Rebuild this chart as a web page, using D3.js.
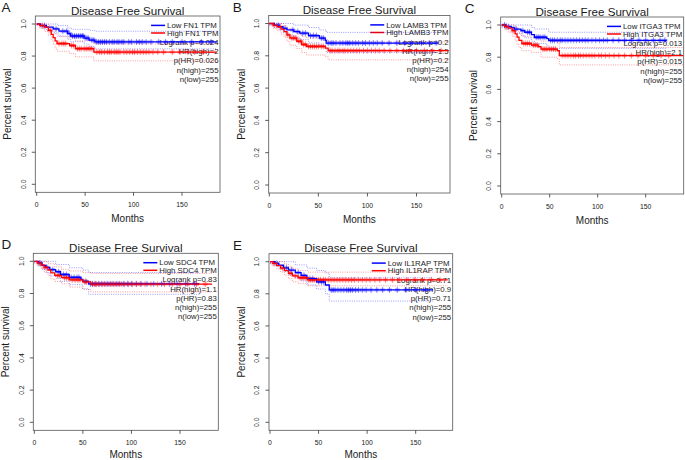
<!DOCTYPE html>
<html><head><meta charset="utf-8">
<script src="https://cdn.jsdelivr.net/npm/d3@7"></script>
<style>
body{margin:0;background:#fff}
svg{display:block}
text{font-family:"Liberation Sans",Arial,Helvetica,sans-serif;fill:#1a1a1a}
</style>
</head><body>
<svg id="chart" width="685" height="460"></svg>
<script>
// ---------- shared axis / text data ----------
const xTicks = [0, 50, 100, 150];
const yTicks = [0, 0.2, 0.4, 0.6, 0.8, 1.0];
const yTickLabels = ["0.0", "0.2", "0.4", "0.6", "0.8", "1.0"];
const titleText = "Disease Free Survival";
const xLabel = "Months";
const yLabel = "Percent survival";
const panelLetters = ["A", "B", "C", "D", "E"];
const genes = ["FN1", "LAMB3", "ITGA3", "SDC4", "IL1RAP"];

// ---------- Panel A: FN1 ----------
const aStats = ["Logrank p=0.024", "HR(high)=2", "p(HR)=0.026", "n(high)=255", "n(low)=255"];
const aLow = [[0,1],[4,0.99],[10,0.98],[17,0.97],[23,0.955],[32,0.94],[35,0.925],[49,0.912],[54,0.9],[60,0.888],[186,0.888]];
const aHigh = [[0,1],[3,0.99],[8,0.98],[12,0.96],[15,0.935],[17,0.915],[19,0.895],[21,0.878],[34,0.866],[40,0.846],[59,0.825],[186,0.825]];
const aLowUp = [[0,1],[15,1],[22,0.99],[32,0.975],[36,0.967],[54,0.96],[60,0.955],[186,0.955]];
const aLowLo = [[0,0.995],[4,0.975],[10,0.96],[17,0.945],[23,0.925],[32,0.905],[35,0.89],[49,0.875],[54,0.86],[60,0.845],[186,0.845]];
const aHighUp = [[0,1],[8,1],[12,0.99],[15,0.97],[19,0.94],[21,0.922],[34,0.915],[40,0.895],[59,0.876],[186,0.876]];
const aHighLo = [[0,0.99],[3,0.975],[8,0.955],[12,0.93],[15,0.9],[17,0.875],[19,0.85],[21,0.83],[34,0.815],[40,0.795],[59,0.77],[186,0.77]];
const aLowCens = [8,20,27,31,34,37,39,41,43,45,47,48,51,53,57,59,62,64,66,68,70,72,75,78,80,83,85,88,90,95,98,103,106,109,113,118,126,133,140,150,160,170,180];
const aHighCens = [6,14,23,26,28,30,36,38,42,44,46,49,51,53,55,57,62,65,67,70,73,75,77,80,82,84,86,90,93,96,99,101,104,107,110,113,116,120,125,131,140,148,156,163,172];

// ---------- Panel B: LAMB3 ----------
const bStats = ["Logrank p=0.2", "HR(high)=1.5", "p(HR)=0.2", "n(high)=254", "n(low)=255"];
const bLow = [[0,1],[5,0.99],[10,0.98],[14,0.97],[18,0.96],[25,0.95],[31,0.94],[40,0.925],[51,0.91],[57,0.895],[58,0.879],[172,0.879]];
const bHigh = [[0,1],[4,0.99],[8,0.98],[12,0.965],[15,0.95],[18,0.93],[21,0.91],[28,0.89],[33,0.87],[38,0.858],[57,0.848],[60,0.832],[183,0.832]];
const bLowUp = [[0,1],[18,1],[25,0.99],[40,0.975],[51,0.96],[58,0.945],[172,0.945]];
const bLowLo = [[0,0.99],[5,0.975],[10,0.96],[14,0.945],[18,0.93],[25,0.915],[31,0.9],[40,0.88],[51,0.865],[58,0.82],[172,0.82]];
const bHighUp = [[0,1],[10,1],[15,0.985],[18,0.97],[21,0.955],[28,0.935],[33,0.92],[38,0.91],[57,0.9],[60,0.885],[183,0.885]];
const bHighLo = [[0,0.99],[4,0.97],[8,0.955],[12,0.935],[15,0.915],[18,0.89],[21,0.865],[28,0.845],[33,0.82],[38,0.805],[57,0.795],[60,0.775],[183,0.775]];
const bLowCens = [9,16,24,29,34,37,42,45,48,53,55,60,63,65,68,72,75,78,80,82,85,88,91,95,98,102,106,110,115,122,130,138,145,155,163,170];
const bHighCens = [5,11,19,23,25,27,30,32,35,37,40,42,44,46,48,50,53,55,62,64,67,70,72,75,77,80,83,86,89,92,96,100,104,108,112,117,123,130,137,143,150,158,166,175];

// ---------- Panel C: ITGA3 ----------
const cStats = ["Logrank p=0.013", "HR(high)=2.1", "p(HR)=0.015", "n(high)=255", "n(low)=255"];
const cLow = [[0,1],[4,0.99],[10,0.985],[13,0.975],[20,0.965],[24,0.955],[31,0.94],[34,0.924],[47,0.915],[49,0.905],[172,0.905]];
const cHigh = [[0,1],[3,0.99],[7,0.98],[11,0.965],[14,0.945],[16,0.925],[18,0.905],[21,0.885],[31,0.875],[38,0.865],[41,0.85],[58,0.84],[60,0.81],[189,0.81]];
const cLowUp = [[0,1],[20,1],[31,0.985],[34,0.975],[49,0.955],[172,0.955]];
const cLowLo = [[0,0.985],[4,0.975],[10,0.965],[13,0.95],[20,0.935],[24,0.92],[31,0.9],[34,0.885],[47,0.87],[49,0.855],[172,0.855]];
const cHighUp = [[0,1],[11,1],[14,0.985],[16,0.965],[18,0.95],[21,0.93],[31,0.92],[41,0.9],[58,0.89],[60,0.86],[189,0.86]];
const cHighLo = [[0,0.99],[3,0.97],[7,0.955],[11,0.93],[14,0.905],[16,0.88],[18,0.86],[21,0.84],[31,0.83],[41,0.8],[58,0.79],[60,0.752],[189,0.752]];
const cLowCens = [3,7,15,22,27,29,36,38,40,43,45,51,53,55,58,61,63,66,69,72,75,78,81,84,87,90,94,98,102,106,110,116,122,128,135,143,150,158,165,170];
const cHighCens = [5,12,23,25,27,29,33,35,37,43,45,47,50,52,54,56,63,66,69,72,75,77,80,82,85,88,91,94,97,101,104,108,112,117,122,128,135,142,150,158,166,174];

// ---------- Panel D: SDC4 ----------
const dStats = ["Logrank p=0.83", "HR(high)=1.1", "p(HR)=0.83", "n(high)=255", "n(low)=255"];
const dLow = [[0,1],[4,0.99],[8,0.975],[12,0.962],[16,0.948],[22,0.935],[27,0.918],[36,0.9],[48,0.888],[50,0.875],[56,0.86],[170,0.86]];
const dHigh = [[0,1],[3,0.99],[7,0.977],[10,0.963],[14,0.946],[17,0.928],[21,0.912],[28,0.898],[36,0.885],[50,0.872],[58,0.858],[183,0.858]];
const dLowUp = [[0,1],[12,1],[22,0.98],[36,0.96],[50,0.945],[56,0.93],[170,0.93]];
const dLowLo = [[0,0.99],[4,0.97],[8,0.95],[12,0.93],[16,0.91],[22,0.895],[27,0.875],[36,0.855],[50,0.83],[56,0.795],[170,0.795]];
const dHighUp = [[0,1],[10,1],[14,0.985],[21,0.965],[28,0.95],[36,0.94],[50,0.93],[58,0.925],[183,0.925]];
const dHighLo = [[0,0.99],[3,0.975],[7,0.955],[10,0.935],[14,0.915],[17,0.89],[21,0.875],[28,0.86],[36,0.84],[50,0.825],[58,0.81],[183,0.81]];
const dLowCens = [6,13,19,25,30,33,38,41,44,46,53,58,60,63,66,69,72,75,78,81,85,88,92,96,100,105,110,116,123,131,139,147,156,165];
const dHighCens = [5,11,24,26,31,33,35,39,42,45,47,52,54,60,62,64,67,70,73,76,79,82,84,87,90,93,97,101,105,109,114,120,127,134,142,150,158,167,176];

// ---------- Panel E: IL1RAP ----------
const eStats = ["Logrank p=0.71", "HR(high)=0.9", "p(HR)=0.71", "n(high)=255", "n(low)=255"];
const eLow = [[0,1],[5,0.99],[9,0.978],[14,0.962],[19,0.948],[26,0.932],[32,0.915],[38,0.895],[48,0.875],[57,0.855],[61,0.824],[168,0.824]];
const eHigh = [[0,1],[3,0.99],[7,0.975],[11,0.96],[15,0.945],[19,0.928],[23,0.912],[29,0.9],[39,0.887],[183,0.887]];
const eLowUp = [[0,1],[14,1],[26,0.98],[38,0.96],[48,0.945],[57,0.93],[61,0.9],[168,0.9]];
const eLowLo = [[0,0.99],[5,0.975],[9,0.96],[14,0.94],[19,0.92],[26,0.9],[32,0.88],[38,0.855],[48,0.83],[57,0.8],[61,0.755],[168,0.755]];
const eHighUp = [[0,1],[11,1],[15,0.985],[19,0.97],[23,0.955],[29,0.945],[39,0.935],[183,0.935]];
const eHighLo = [[0,0.99],[3,0.975],[7,0.955],[11,0.935],[15,0.915],[19,0.895],[23,0.875],[29,0.865],[39,0.85],[183,0.85]];
const eLowCens = [7,17,22,29,35,41,44,50,53,55,63,65,67,70,73,76,79,81,83,85,88,91,95,99,104,110,116,123,131,140,150,160];
const eHighCens = [4,13,21,26,31,33,35,37,40,42,44,46,48,50,52,55,57,60,63,66,69,72,75,78,81,84,87,91,95,99,103,108,113,119,126,133,141,149,157,166,175];

// ---------- layout (pixel geometry per panel) ----------
const layout = [
  {boxL:35.3, boxR:220.0, y1:24.0,  y0:184.3, x0:36.7,  x150:182.0},
  {boxL:268.7,boxR:450.0, y1:23.5,  y0:185.0, x0:269.3, x150:416.5},
  {boxL:500.7,boxR:683.7, y1:25.0,  y0:186.0, x0:501.7, x150:645.7},
  {boxL:33.3, boxR:218.3, y1:261.3, y0:422.3, x0:34.3,  x150:180.0},
  {boxL:269.0,boxR:452.7, y1:261.7, y0:422.3, x0:270.0, x150:415.7}
];

const panelData = [
  {stats:aStats, low:aLow, high:aHigh, lowUp:aLowUp, lowLo:aLowLo, highUp:aHighUp, highLo:aHighLo, lowC:aLowCens, highC:aHighCens},
  {stats:bStats, low:bLow, high:bHigh, lowUp:bLowUp, lowLo:bLowLo, highUp:bHighUp, highLo:bHighLo, lowC:bLowCens, highC:bHighCens},
  {stats:cStats, low:cLow, high:cHigh, lowUp:cLowUp, lowLo:cLowLo, highUp:cHighUp, highLo:cHighLo, lowC:cLowCens, highC:cHighCens},
  {stats:dStats, low:dLow, high:dHigh, lowUp:dLowUp, lowLo:dLowLo, highUp:dHighUp, highLo:dHighLo, lowC:dLowCens, highC:dHighCens},
  {stats:eStats, low:eLow, high:eHigh, lowUp:eLowUp, lowLo:eLowLo, highUp:eHighUp, highLo:eHighLo, lowC:eLowCens, highC:eHighCens}
];

const BLUE = "#0000ff", RED = "#ff0000";
const svg = d3.select("#chart");

function stepAt(curve, t) {
  let v = curve[0][1];
  for (const p of curve) { if (p[0] <= t) v = p[1]; else break; }
  return v;
}

panelData.forEach((pd, i) => {
  const L = layout[i];
  const g = svg.append("g");
  const x = d3.scaleLinear().domain([0,150]).range([L.x0, L.x150]);
  const y = d3.scaleLinear().domain([0,1]).range([L.y0, L.y1]);
  const boxT = L.y1 - 8, boxB = L.y0 + 8;
  const cx = (L.boxL + L.boxR) / 2;

  // panel letter
  g.append("text").attr("x", i % 3 === 0 ? 1.5 : L.boxL - 36).attr("y", boxT - 4)
    .style("font-size","13.5px").text(panelLetters[i]);

  // title
  g.append("text").attr("x", cx).attr("y", boxT - 1.5).attr("text-anchor","middle")
    .style("font-size","11.6px").text(titleText);

  // box
  g.append("rect").attr("x", L.boxL).attr("y", boxT).attr("width", L.boxR - L.boxL).attr("height", boxB - boxT)
    .attr("fill","none").attr("stroke","#555").attr("stroke-width",0.8);

  // y axis ticks + labels
  yTicks.forEach((v, k) => {
    g.append("line").attr("x1", L.boxL - 3.5).attr("x2", L.boxL).attr("y1", y(v)).attr("y2", y(v))
      .attr("stroke","#333").attr("stroke-width",0.8);
    const tx = L.boxL - 9.5, ty = y(v);
    g.append("text").attr("x", tx).attr("y", ty).attr("text-anchor","middle")
      .attr("transform", `rotate(-90,${tx},${ty})`).style("font-size","6.8px").text(yTickLabels[k]);
  });
  // x axis ticks + labels
  xTicks.forEach(v => {
    g.append("line").attr("x1", x(v)).attr("x2", x(v)).attr("y1", boxB).attr("y2", boxB + 3.5)
      .attr("stroke","#333").attr("stroke-width",0.8);
    g.append("text").attr("x", x(v)).attr("y", boxB + 15).attr("text-anchor","middle")
      .style("font-size","6.8px").text(v);
  });
  // axis titles
  g.append("text").attr("x", cx).attr("y", Math.min(boxB + 29.5, 457.5)).attr("text-anchor","middle")
    .style("font-size","10px").text(xLabel);
  const lx = L.boxL - 24, ly = (L.y0 + L.y1) / 2;
  g.append("text").attr("x", lx).attr("y", ly).attr("text-anchor","middle")
    .attr("transform", `rotate(-90,${lx},${ly})`).style("font-size","10px").text(yLabel);

  // legend
  const legLabels = ["Low " + genes[i] + " TPM", "High " + genes[i] + " TPM"];
  const legCols = [BLUE, RED];
  const tmp = legLabels.map((s, k) => g.append("text").attr("y", boxT + 12 + k * 7.6).style("font-size","7.8px").text(s));
  const maxW = d3.max(tmp, t => t.node().getComputedTextLength());
  const tx0 = L.boxR - 1.5 - maxW;
  tmp.forEach((t, k) => {
    t.attr("x", tx0);
    const ly2 = boxT + 12 + k * 7.6 - 2.6;
    g.append("line").attr("x1", tx0 - 16).attr("x2", tx0 - 2).attr("y1", ly2).attr("y2", ly2)
      .attr("stroke", legCols[k]).attr("stroke-width", 1.5);
  });
  pd.stats.forEach((s, k) => {
    g.append("text").attr("x", L.boxR - 1.5).attr("y", boxT + 29 + k * 9.2).attr("text-anchor","end")
      .style("font-size","7.8px").text(s);
  });

  const line = d3.line().x(d => x(d[0])).y(d => y(d[1])).curve(d3.curveStepAfter);

  // confidence intervals (dotted)
  [[pd.lowUp, BLUE],[pd.lowLo, BLUE],[pd.highUp, RED],[pd.highLo, RED]].forEach(([c, col]) => {
    g.append("path").attr("d", line(c)).attr("fill","none").attr("stroke", col)
      .attr("stroke-opacity",0.5).attr("stroke-width",0.8).attr("stroke-dasharray","1,1.3");
  });

  // censor marks
  [[pd.lowC, pd.low, BLUE],[pd.highC, pd.high, RED]].forEach(([cs, curve, col]) => {
    cs.forEach(t => {
      const px = x(t), py = y(stepAt(curve, t));
      g.append("line").attr("x1", px).attr("x2", px).attr("y1", py - 3).attr("y2", py + 3)
        .attr("stroke", col).attr("stroke-opacity",0.45).attr("stroke-width",1);
      g.append("line").attr("x1", px - 2.5).attr("x2", px + 2.5).attr("y1", py).attr("y2", py)
        .attr("stroke", col).attr("stroke-opacity",0.35).attr("stroke-width",3);
    });
  });

  // survival curves
  [[pd.low, BLUE],[pd.high, RED]].forEach(([c, col]) => {
    g.append("path").attr("d", line(c)).attr("fill","none").attr("stroke", col).attr("stroke-width",1.3);
  });
});
</script>
</body></html>
